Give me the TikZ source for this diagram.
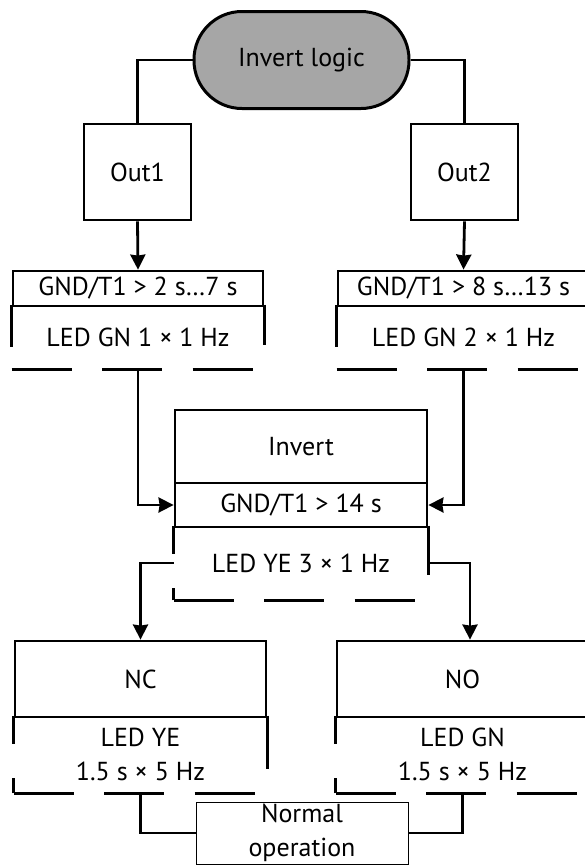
\documentclass[tikz,border=0pt]{standalone}
\usepackage{fontspec}
\setmainfont{PT Sans}
\usetikzlibrary{arrows.meta}
\definecolor{logicgray}{RGB}{166,166,166}

\begin{document}
\begin{tikzpicture}[x=1pt,y=-1pt,line width=2.8pt,
	every node/.style={font=\fontsize{26}{34}\selectfont,inner sep=0pt,align=center},
	box/.style={draw,minimum width=#1},
	part/.style={minimum width=#1},
	arr/.style={-{Stealth[length=15pt,width=15pt,inset=1pt]}},
	gap/.style={dash pattern=on 60pt off 30.5pt}]
	\useasboundingbox (0,0) rectangle (585,865);
	\node[draw,fill=logicgray,line width=3pt,rounded corners=48pt,minimum width=215pt,minimum height=97pt] (logic) at (301.5,60) {Invert logic};
	\node[box=107pt,minimum height=96pt] (out1) at (137.5,172) {Out1};
	\node[box=107pt,minimum height=96pt] (out2) at (464.5,172) {Out2};
	\draw (logic.west) -| (out1.north);
	\draw (logic.east) -| (out2.north);
	\node[box=250pt,minimum height=35pt] (gnda) at (138,288.5) {GND/T1 > 2 s…7 s};
	\node[part=250pt,minimum height=62pt] (leda) at (138,337) {LED GN 1 × 1 Hz};
	\node[box=251pt,minimum height=35pt] (gndb) at (463.5,288.5) {GND/T1 > 8 s…13 s};
	\node[part=251pt,minimum height=62pt] (ledb) at (463.5,337) {LED GN 2 × 1 Hz};
	\draw (leda.north west) -- ++(0,42) (leda.north east) -- ++(0,40);
	\draw (ledb.north west) -- ++(0,42);
	\draw[gap] (leda.south west) -- (leda.south east);
	\draw[gap] (ledb.south west) -- (ledb.south east);
	\draw[arr] (out1.south) -- (gnda.north);
	\draw[arr] (out2.south) -- (gndb.north);
	\node[box=252pt,minimum height=73pt] (inv) at (301,446.5) {Invert};
	\node[box=252pt,minimum height=44pt] (gndc) at (301,505) {GND/T1 > 14 s};
	\node[part=252pt,minimum height=72pt] (ledc) at (301,563) {LED YE 3 × 1 Hz};
	\draw (ledc.north west) -- ++(0,28) (ledc.north east) -- ++(0,49);
	\draw (ledc.south west) -- ++(0,-12);
	\draw[gap] (ledc.south west) -- (ledc.south east);
	\draw[arr] (leda.south) |- (gndc.west);
	\draw[arr] (ledb.south) |- (gndc.east);
	\node[box=251pt,minimum height=76pt] (nc) at (140.5,679) {NC};
	\node[part=251pt,minimum height=75pt] (ncled) at (140.5,754.5) {LED YE\\1.5 s × 5 Hz};
	\node[box=251pt,minimum height=76pt] (no) at (462.5,679) {NO};
	\node[part=251pt,minimum height=75pt] (noled) at (462.5,754.5) {LED GN\\1.5 s × 5 Hz};
	\draw (ncled.north west) -- ++(0,28) (ncled.north east) -- ++(0,53);
	\draw (noled.north west) -- ++(0,28);
	\draw (ncled.south west) -- ++(0,-15);
	\draw (noled.south west) -- ++(0,-15);
	\draw[gap] (ncled.south west) -- (ncled.south east);
	\draw[gap] (noled.south west) -- (noled.south east);
	\draw[arr] (ledc.west) -| (nc.north);
	\draw[arr] (ledc.east) -| ([xshift=7.5pt]no.north);
	\node[box=212pt,minimum height=62pt,line width=0.9pt] (normal) at (302,833) {Normal\\operation};
	\draw (ncled.south) |- (normal.west);
	\draw (noled.south) |- (normal.east);
\end{tikzpicture}
\end{document}
